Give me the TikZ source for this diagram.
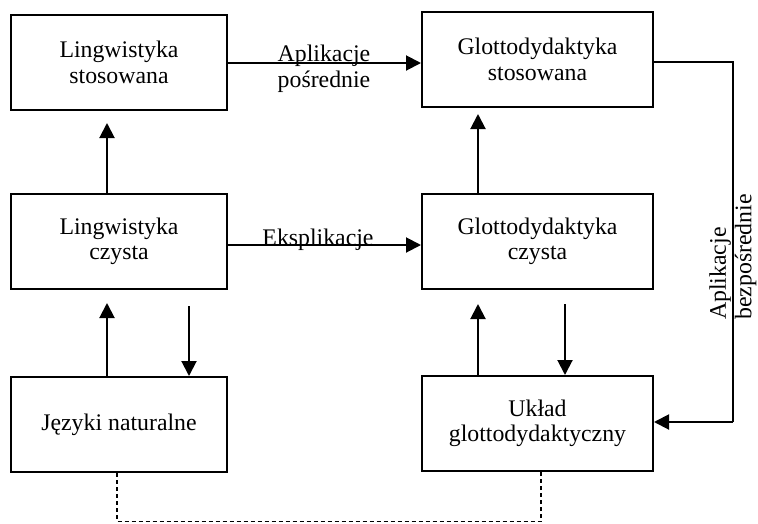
\documentclass[tikz,border=0pt]{standalone}
\usepackage{fontspec}
\setmainfont{Liberation Serif}
\usetikzlibrary{arrows.meta}
\tikzset{
  box/.style={draw, line width=2pt, minimum height=95pt, align=center,
    inner sep=2pt, font=\fontsize{23.8}{25.5}\selectfont},
  narrowbox/.style={box, minimum width=216pt},
  widebox/.style={box, minimum width=231pt},
  arr/.style={line width=2pt, -{Triangle[length=15pt,width=15pt]}},
  thinline/.style={line width=1.1pt},
  lbl/.style={font=\fontsize{23.8}{25.5}\selectfont, inner sep=0pt, align=center},
  dashline/.style={line width=1.1pt, dash pattern=on 4pt off 3pt},
}
\begin{document}
\begin{tikzpicture}[x=1pt,y=-1pt]
\useasboundingbox (0,0) rectangle (758,523);

% boxes
\node[narrowbox] (ls) at (119,62.5)   {Lingwistyka\\stosowana};
\node[widebox]   (gs) at (537.5,59.5) {Glottodydaktyka\\stosowana};
\node[narrowbox] (lc) at (119,241.5)  {Lingwistyka\\czysta};
\node[widebox]   (gc) at (537.5,241.5){Glottodydaktyka\\czysta};
\node[narrowbox] (jn) at (119,424.5)  {Języki naturalne};
\node[widebox]   (ug) at (537.5,423.5){Układ\\glottodydaktyczny};

% vertical arrows
\draw[arr, shorten >=12pt] ([xshift=-12pt]lc.north) -- ([xshift=-12pt]ls.south);
\draw[arr, shorten >=6pt]  ([xshift=-59.5pt]gc.north) -- ([xshift=-59.5pt]gs.south);
\draw[arr, shorten >=13pt] ([xshift=-12pt]jn.north) -- ([xshift=-12pt]lc.south);
\draw[arr, shorten <=16pt] ([xshift=70pt]lc.south) -- ([xshift=70pt]jn.north);
\draw[arr, shorten >=14pt] ([xshift=-59.5pt]ug.north) -- ([xshift=-59.5pt]gc.south);
\draw[arr, shorten <=14pt] ([xshift=27.5pt]gc.south) -- ([xshift=27.5pt]ug.north);

% horizontal arrows
\draw[arr] ([yshift=-0.5pt]ls.east) -- ([yshift=-0.5pt]ls.east -| gs.west);
\draw[arr] ([yshift=-3.5pt]lc.east) -- ([yshift=-3.5pt]lc.east -| gc.west);

% labels
\node[lbl] (ap) at (324,69) {Aplikacje\\pośrednie};
\node[lbl, anchor=base] (ek) at (318,245) {Eksplikacje};

% direct applications
\coordinate (rc) at (733,422);
\draw[thinline] ([yshift=-2.5pt]gs.east) -| (rc);
\draw[arr] (rc) -- (rc -| ug.east);
\node[lbl, rotate=90, anchor=west, align=left] (ab) at (733,320) {Aplikacje\\bezpośrednie};

% dashed link at the bottom
\coordinate (dl) at (117,521.5);
\coordinate (dr) at (541,521.5);
\draw[dashline] (jn.south -| dl) -- (dl) -- (dr) -- (dr |- ug.south);
\end{tikzpicture}
\end{document}
